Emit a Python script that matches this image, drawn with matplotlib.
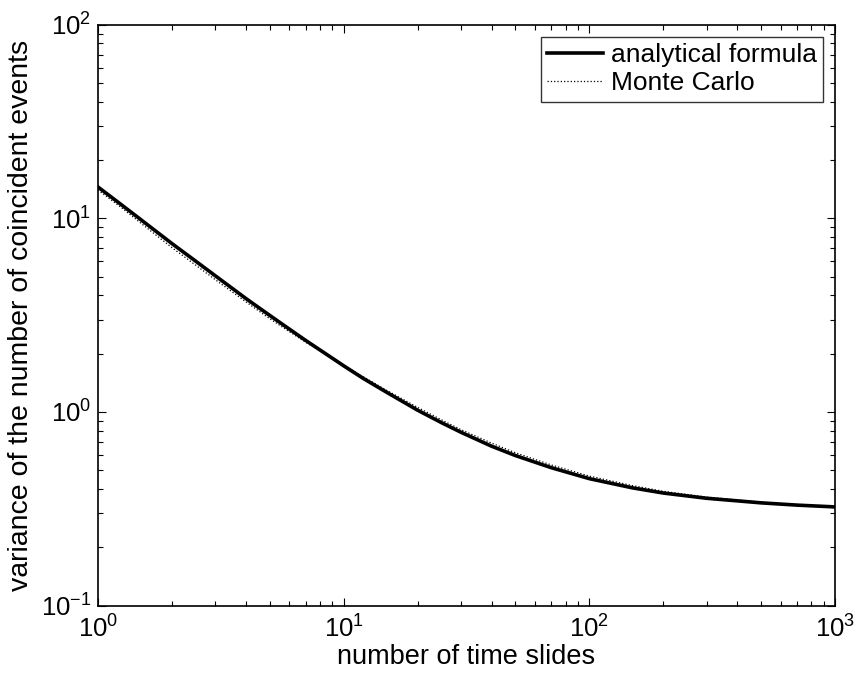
import numpy as np
import matplotlib
matplotlib.use("Agg")
import matplotlib.pyplot as plt
from matplotlib.ticker import LogLocator, FuncFormatter, NullFormatter

plt.rcParams['font.family'] = ['Liberation Sans', 'DejaVu Sans']
plt.rcParams['mathtext.default'] = 'regular'

# number of time slides
slides = [1, 1.25, 1.5, 2, 2.5, 3, 4, 5, 6, 7, 8, 10, 12, 15, 20, 25, 30, 40, 50,
          70, 100, 150, 200, 300, 500, 700, 1000]

# analytical formula (solid)
var_analytic = [14.5, 11.7, 9.8, 7.4, 6.0, 5.05, 3.85, 3.15, 2.68, 2.34, 2.09, 1.73,
                1.49, 1.26, 1.02, 0.88, 0.785, 0.665, 0.595, 0.515, 0.452, 0.405,
                0.381, 0.358, 0.339, 0.330, 0.323]

# Monte Carlo (dotted)
var_mc = [14.0, 11.3, 9.4, 7.05, 5.72, 4.82, 3.70, 3.03, 2.60, 2.29, 2.07, 1.74,
          1.52, 1.29, 1.055, 0.91, 0.81, 0.69, 0.615, 0.532, 0.466, 0.416,
          0.389, 0.363, 0.342, 0.331, 0.322]

fig = plt.figure(figsize=(8.56, 6.77), dpi=100)
ax = fig.add_axes([0.1145, 0.1056, 0.861, 0.858])

ax.loglog(slides, var_analytic, '-', color='black', lw=2.6, label='analytical formula')
ax.loglog(slides, var_mc, ':', color='black', lw=0.9, label='Monte Carlo')

ax.set_xlim(1, 1000)
ax.set_ylim(0.1, 100)

# matlab-like ticks: inside, on every side
fmt = FuncFormatter(lambda v, p: r'$10^{%d}$' % int(round(np.log10(v))))
for a in (ax.xaxis, ax.yaxis):
    a.set_major_locator(LogLocator(base=10))
    a.set_minor_locator(LogLocator(base=10, subs=np.arange(2, 10)))
    a.set_major_formatter(fmt)
    a.set_minor_formatter(NullFormatter())
ax.tick_params(which='both', direction='in', top=True, right=True, labelsize=18.5, width=0.8)
ax.tick_params(which='major', length=6)
ax.tick_params(which='minor', length=3.5)
ax.tick_params(axis='x', pad=7)
ax.tick_params(axis='y', pad=5)
for s in ax.spines.values():
    s.set_linewidth(1.2)

ax.set_xlabel('number of time slides', fontsize=19.5, labelpad=1)
ax.set_ylabel('variance of the number of coincident events', fontsize=20.5, labelpad=5)

leg = ax.legend(loc='upper right', fontsize=19, frameon=True, fancybox=False,
                edgecolor='black', borderaxespad=0.45, handlelength=2.1,
                handletextpad=0.3, borderpad=0.25, labelspacing=0.15)
leg.get_frame().set_linewidth(1.0)

fig.savefig('out.png', dpi=100)
